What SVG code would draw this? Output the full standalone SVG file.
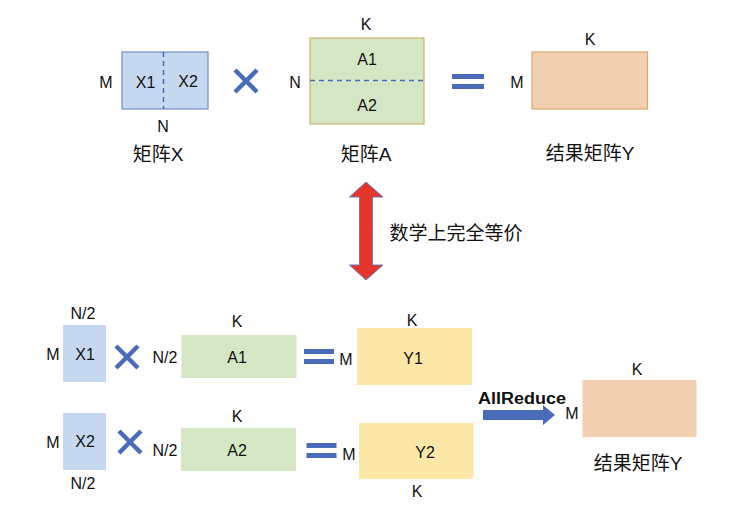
<svg xmlns="http://www.w3.org/2000/svg" width="738" height="518" viewBox="0 0 738 518">
<style>
text{font-family:"Liberation Sans",Arial,"Noto Sans CJK SC",sans-serif;fill:#111;text-anchor:middle;dominant-baseline:central}
.l{font-size:16px}
.cn{font-size:19px}
.xb{fill:#c5d8ef}
.ab{fill:#d4e6c3}
.yb{fill:#fbe8a6}
.rb{fill:#f3cfb1}
.op{stroke:#4a6cb8;stroke-width:4.5;fill:none}
.eq{fill:#4a6cb8}
.dash{stroke:#4a6cb8;stroke-width:1.5;stroke-dasharray:5 4;fill:none}
</style>
<rect width="738" height="518" fill="#fff"/>

<g id="matX">
<rect x="122" y="52" width="86" height="57" class="xb" stroke="#6f8fc6" stroke-width="1.2"/>
<line x1="163.5" y1="52" x2="163.5" y2="109" class="dash"/>
<text x="145.5" y="82" class="l">X1</text>
<text x="188" y="81" class="l">X2</text>
<text x="106" y="82" class="l">M</text>
<text x="163" y="126" class="l">N</text>
<text x="158" y="154" class="cn">矩阵X</text>
</g>
<g id="times1"><path d="M235,70 L257,92 M257,70 L235,92" class="op"/></g>
<g id="matA">
<rect x="310" y="38" width="114" height="86" class="ab" stroke="#c8b46c" stroke-width="1.2"/>
<line x1="310" y1="80.5" x2="424" y2="80.5" class="dash"/>
<text x="367" y="59" class="l">A1</text>
<text x="367" y="105" class="l">A2</text>
<text x="366" y="24" class="l">K</text>
<text x="295" y="82" class="l">N</text>
<text x="366" y="154" class="cn">矩阵A</text>
</g>
<g id="eq1"><rect x="452" y="74" width="32" height="5" class="eq"/><rect x="452" y="84" width="32" height="5" class="eq"/></g>
<g id="matY">
<rect x="532" y="52" width="115.5" height="57" class="rb" stroke="#d8aa70" stroke-width="1.2"/>
<text x="590" y="39" class="l">K</text>
<text x="517" y="82" class="l">M</text>
<text x="590" y="153" class="cn">结果矩阵Y</text>
</g>

<g id="equiv">
<polygon points="366,182 383,197 372.5,197 372.5,265 383,265 366,280 349.5,265 359.5,265 359.5,197 349.5,197" fill="#e5342a" stroke="#6a78b8" stroke-width="1"/>
<text x="456" y="233" class="cn">数学上完全等价</text>
</g>

<g id="X1">
<rect x="63" y="325" width="43" height="57" class="xb"/>
<text x="85" y="354" class="l">X1</text>
<text x="83" y="313" class="l">N/2</text>
<text x="53" y="354" class="l">M</text>
</g>
<g id="times2"><path d="M116,346 L138,368 M138,346 L116,368" class="op"/></g>
<g id="A1">
<rect x="181.5" y="335" width="115" height="43" class="ab"/>
<text x="237" y="357" class="l">A1</text>
<text x="237" y="321" class="l">K</text>
<text x="165" y="357" class="l">N/2</text>
</g>
<g id="eq2"><rect x="304" y="349" width="30" height="5" class="eq"/><rect x="304" y="359" width="30" height="5" class="eq"/></g>
<g id="Y1">
<rect x="357" y="328" width="115" height="57" class="yb"/>
<text x="413" y="358" class="l">Y1</text>
<text x="412" y="320" class="l">K</text>
<text x="346" y="359" class="l">M</text>
</g>

<g id="X2">
<rect x="63" y="413" width="43" height="57" class="xb"/>
<text x="85" y="441" class="l">X2</text>
<text x="83" y="483" class="l">N/2</text>
<text x="53" y="442" class="l">M</text>
</g>
<g id="times3"><path d="M119,431 L141,453 M141,431 L119,453" class="op"/></g>
<g id="A2">
<rect x="181" y="428" width="115" height="43" class="ab"/>
<text x="237" y="450" class="l">A2</text>
<text x="237" y="416" class="l">K</text>
<text x="165" y="450" class="l">N/2</text>
</g>
<g id="eq3"><rect x="306.5" y="443" width="30" height="5" class="eq"/><rect x="306.5" y="453" width="30" height="5" class="eq"/></g>
<g id="Y2">
<rect x="359" y="423" width="114.5" height="56" class="yb"/>
<text x="425" y="452" class="l">Y2</text>
<text x="417" y="491" class="l">K</text>
<text x="349" y="454" class="l">M</text>
</g>

<g id="connectors">
<polygon points="483,410 543,410 543,405 555,415 543,425 543,420 483,420" fill="#4a6cb8"/>
<text x="522" y="398" style="font-size:16px;font-weight:bold" textLength="88" lengthAdjust="spacingAndGlyphs">AllReduce</text>
</g>

<g id="result">
<rect x="582.5" y="380" width="114" height="57" class="rb"/>
<text x="637" y="369" class="l">K</text>
<text x="572" y="413" class="l">M</text>
<text x="638" y="463" class="cn">结果矩阵Y</text>
</g>
</svg>
